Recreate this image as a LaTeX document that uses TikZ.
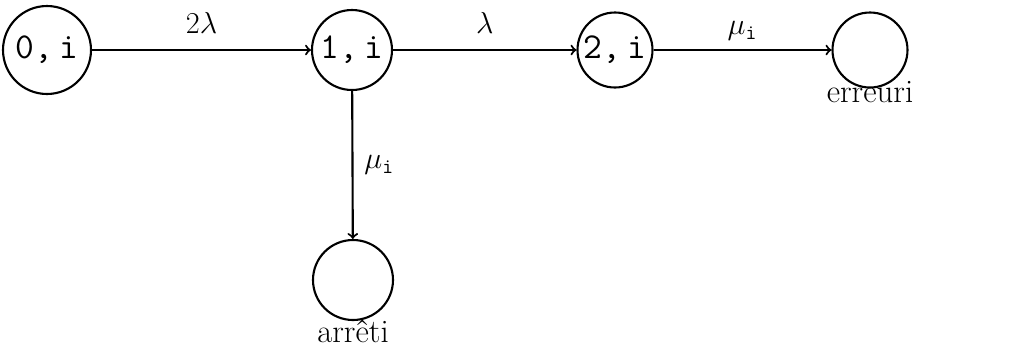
\documentclass[tikz,border=0pt]{standalone}
\usepackage{amsmath,amssymb}
\usetikzlibrary{arrows,positioning}

\begin{document}
\begin{tikzpicture}[
    etat/.style={circle,draw,line width=1.2pt,inner sep=0pt,font=\huge\ttfamily},
    lien/.style={->,line width=1.2pt},
    nom/.style={inner sep=0pt,font=\LARGE}
  ]
      \useasboundingbox (0,0) rectangle (20.34,-6.92);

      % States on the top row
      \node[etat,minimum size=1.76cm] (e0) at (0.94,-1.0) {0,\,i};
      \node[etat,minimum size=1.6cm] (e1) at (7.04,-1.0) {1,\,i};
      \node[etat,minimum size=1.5cm] (e2) at (12.3,-1.0) {2,\,i};
      \node[etat,minimum size=1.5cm] (err) at (17.4,-1.0) {};

      % Absorbing state below
      \node[etat,minimum size=1.6cm] (arr) at (7.06,-5.6) {};

      \node[nom,below=-0.16cm of err] (errlbl) {\scalebox{1.08}{erreuri}};
      \node[nom,below=-0.04cm of arr] (arrlbl) {\scalebox{1.08}{arr\^eti}};

      \draw[lien] (e0) -- node[midway,above=0.2cm] {\LARGE$2\lambda$} (e1);
      \draw[lien] (e1) -- node[midway,above=0.2cm] {\LARGE$\lambda$} (e2);
      \draw[lien] (e2) -- node[midway,above=0.05cm] {\LARGE$\mu_{\texttt{i}}$} (err);
      \draw[lien] (e1) -- node[midway,right=0.1cm] {\LARGE$\mu_{\texttt{i}}$} (arr);
\end{tikzpicture}
\end{document}
